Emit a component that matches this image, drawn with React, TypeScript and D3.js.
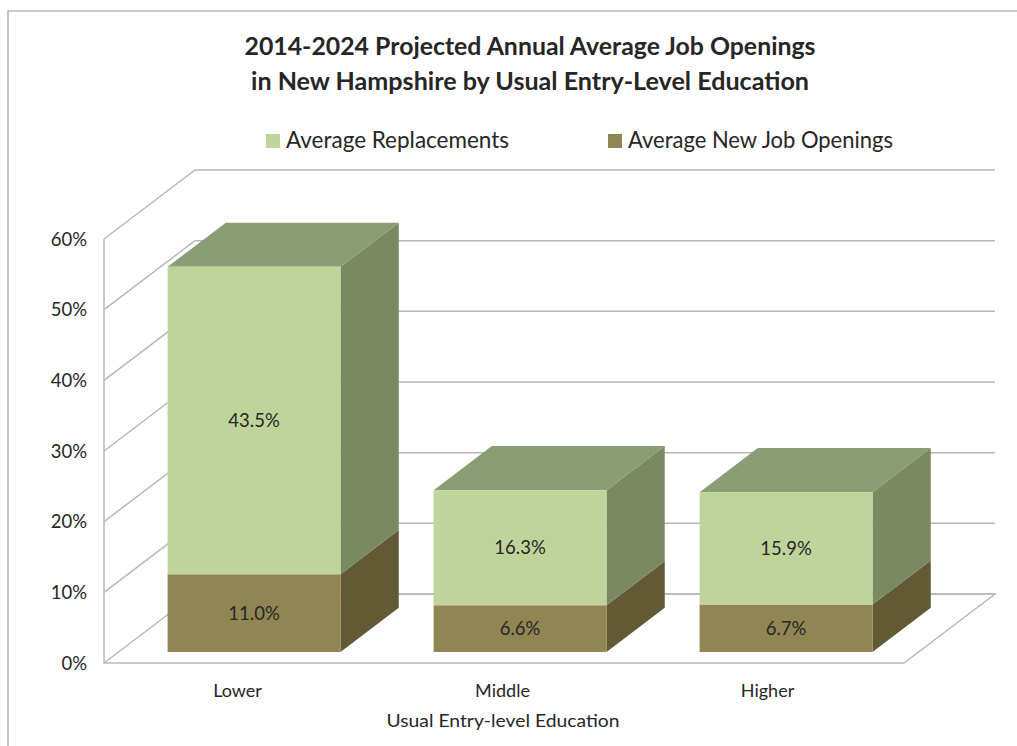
import React from "react";
import * as d3 from "d3";

const categories = ["Lower", "Middle", "Higher"];
const newJobs = [11.0, 6.6, 6.7];
const replacements = [43.5, 16.3, 15.9];
const yTicks = [0, 10, 20, 30, 40, 50, 60];
const titleLines = [
  "2014-2024 Projected Annual Average Job Openings",
  "in New Hampshire by Usual Entry-Level Education",
];
const seriesNames = ["Average Replacements", "Average New Job Openings"];

const FONT = "Lato, 'Open Sans', sans-serif";
const C = {
  text: "#262626",
  grid: "#b8b8b8",
  border: "#9a9a9a",
  lightFront: "#bfd49b",
  lightSide: "#7a8961",
  lightTop: "#8b9d74",
  darkFront: "#918553",
  darkSide: "#615a35",
};

const y = d3.scaleLinear().domain([0, 60]).range([663, 239]);
const x = d3.scaleBand<string>().domain(categories).range([106.5, 904.5]).paddingInner(0.35).paddingOuter(0.175);
const labelX = d3.scaleBand<string>().domain(categories).range([105, 900]);
const depthX = d3.scaleLinear().domain([0, 1]).range([0, 91]);
const depthY = d3.scaleLinear().domain([0, 1]).range([0, -69]);
const BAR_FRONT = 0.16;
const BAR_BACK = 0.8;
const LEFT = 104;
const RIGHT = 904;

const pt = (px: number, v: number, d: number): [number, number] => [px + depthX(d), y(v) + depthY(d)];
const poly = d3.line().curve(d3.curveLinearClosed);
const open = d3.line();

function Box({ x0, x1, v0, v1, front, side, top }: any) {
  return (
    <g>
      <path fill={side} d={poly([pt(x1, v0, BAR_FRONT), pt(x1, v0, BAR_BACK), pt(x1, v1, BAR_BACK), pt(x1, v1, BAR_FRONT)])!} />
      {top && <path fill={top} d={poly([pt(x0, v1, BAR_FRONT), pt(x0, v1, BAR_BACK), pt(x1, v1, BAR_BACK), pt(x1, v1, BAR_FRONT)])!} />}
      <path fill={front} d={poly([pt(x0, v0, BAR_FRONT), pt(x1, v0, BAR_FRONT), pt(x1, v1, BAR_FRONT), pt(x0, v1, BAR_FRONT)])!} />
    </g>
  );
}

export default function App() {
  return (
    <svg width={1017} height={746} style={{ position: "absolute", left: 0, top: 0, background: "#fff" }} fontFamily={FONT}>
      <path d={open([[8, 746], [8, 11], [1017, 11]])!} fill="none" stroke={C.border} strokeWidth={1.2} />

      {titleLines.map((t, i) => (
        <text key={t} x={530} y={55 + i * 35} textAnchor="middle" fontSize={25} fontWeight={700} fill={C.text} textLength={i === 0 ? 571 : 558} lengthAdjust="spacingAndGlyphs">{t}</text>
      ))}

      <rect x={266} y={134} width={14} height={14} fill={C.lightFront} />
      <text x={286} y={148} fontSize={23} fill={C.text} textLength={223} lengthAdjust="spacingAndGlyphs">{seriesNames[0]}</text>
      <rect x={608} y={134} width={14} height={14} fill={C.darkFront} />
      <text x={628} y={148} fontSize={23} fill={C.text} textLength={265} lengthAdjust="spacingAndGlyphs">{seriesNames[1]}</text>

      <g fill="none" stroke={C.grid} strokeWidth={1.5}>
        <path d={open([pt(LEFT, 60, 0), pt(LEFT, 0, 0), pt(RIGHT, 0, 0), pt(RIGHT, 0, 1), pt(LEFT, 0, 1)])!} />
        {yTicks.map((v) => (
          <path key={v} d={open([pt(LEFT, v, 0), pt(LEFT, v, 1), pt(RIGHT, v, 1)])!} />
        ))}
      </g>

      {yTicks.map((v) => (
        <text key={v} x={87} y={y(v) + 6.5} textAnchor="end" fontSize={18.5} fill={C.text}>{v}%</text>
      ))}

      {categories.map((c, i) => {
        const x0 = x(c)!;
        const x1 = x0 + x.bandwidth();
        const a = newJobs[i];
        const b = a + replacements[i];
        const cx = (x0 + x1) / 2 + depthX(BAR_FRONT);
        const off = depthY(BAR_FRONT);
        return (
          <g key={c}>
            <Box x0={x0} x1={x1} v0={0} v1={a} front={C.darkFront} side={C.darkSide} />
            <Box x0={x0} x1={x1} v0={a} v1={b} front={C.lightFront} side={C.lightSide} top={C.lightTop} />
            <text x={cx} y={y(a / 2) + off + 6.5} textAnchor="middle" fontSize={18.5} fill={C.text}>{a.toFixed(1)}%</text>
            <text x={cx} y={y(a + replacements[i] / 2) + off + 6.5} textAnchor="middle" fontSize={18.5} fill={C.text}>{replacements[i].toFixed(1)}%</text>
            <text x={labelX(c)! + labelX.bandwidth() / 2} y={697} textAnchor="middle" fontSize={18} fill={C.text}>{c}</text>
          </g>
        );
      })}

      <text x={503} y={727} textAnchor="middle" fontSize={18} fill={C.text} textLength={233} lengthAdjust="spacingAndGlyphs">Usual Entry-level Education</text>
    </svg>
  );
}
